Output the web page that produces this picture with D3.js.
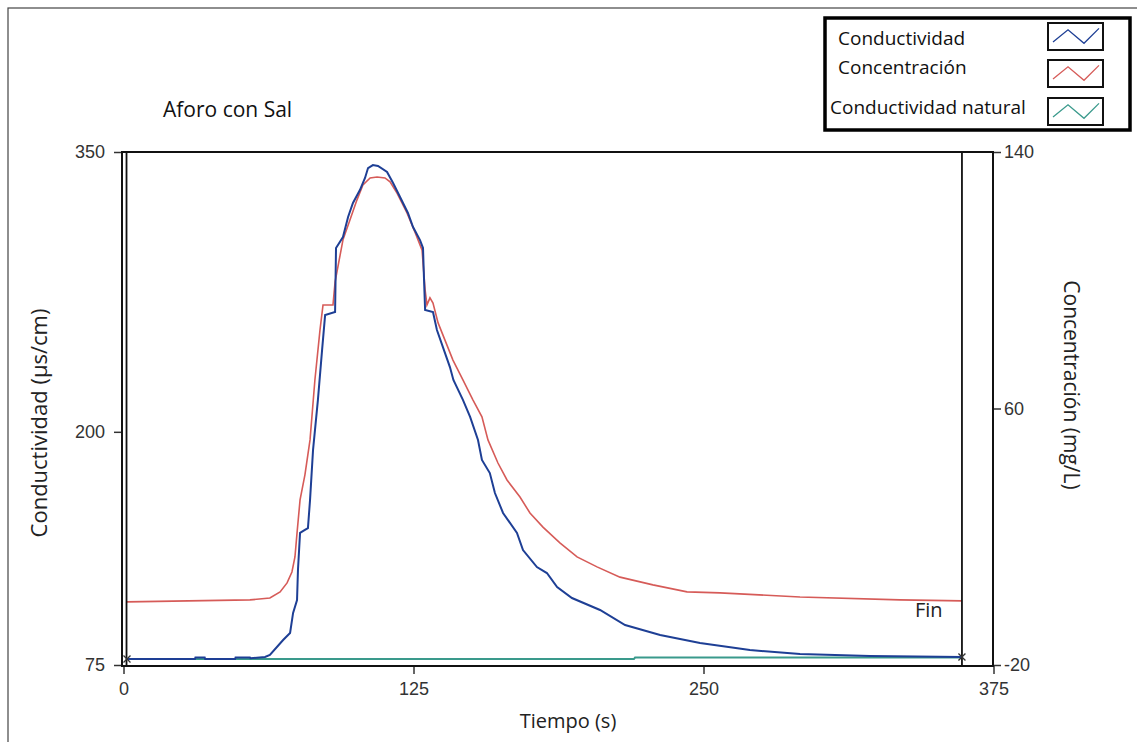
<!DOCTYPE html>
<html lang="es">
<head>
  <meta charset="UTF-8">
  <title>Aforo con Sal</title>
  <script src="https://d3js.org/d3.v7.min.js"></script>
  <style>
    body { margin: 0; background: #fff; }
    svg { display: block; font-family: "Open Sans", "Noto Sans", sans-serif; }
    .tick text { font-size: 18px; fill: #333; }
    .tick line { stroke: #333; stroke-width: 1.5; }
    .frame { fill: none; stroke: #111; stroke-width: 2; }
  </style>
</head>
<body>
  <svg width="1137" height="742"></svg>

  <script>
    // datos
    let tiempoCond = [1.5, 30.8, 31, 35, 35.2, 48.1, 48.3, 54.5, 54.7, 61.0, 63.1, 68.8, 71.8, 73.1, 74.8, 75.2,
      76.1, 78.2, 79.5, 80.4, 81.7, 83.8, 85.6, 86.9, 91.2, 91.6, 94.6, 96.8, 98.9, 101.9, 104.1, 105.4, 107.5,
      109.7, 113.6, 116.2, 119.2, 122.6, 124.8, 127.8, 129.1, 129.5, 130.0, 133.4, 135.1, 140.7, 142.2, 146.3, 149.4,
      152.8, 154.5, 157.9, 160.1, 163.6, 169.6, 172.2, 178.2, 182.5, 186.9, 193.3, 205.4, 216.2, 231.3, 248.5,
      270.0, 291.6, 321.8, 361.4];
    let conductividad = [78.2, 78.2, 79.0, 79.0, 78.2, 78.2, 79.0, 79.0, 78.6, 79.3, 80.4, 88.4, 92.2, 102.9, 109.8, 125.9,
      145.8, 147.4, 148.4, 163.4, 190.3, 217.1, 243.9, 262.6, 264.2, 298.5, 304.4, 315.2, 322.7, 329.6, 336.1, 341.4, 343.0,
      342.5, 339.3, 333.4, 325.9, 317.3, 309.8, 302.8, 298.5, 283.0, 265.3, 264.2, 254.6, 234.7, 227.8, 217.1, 208.0,
      195.6, 184.9, 177.9, 167.2, 156.5, 145.8, 136.6, 127.5, 124.3, 116.8, 110.9, 104.5, 96.4, 91.1, 86.8,
      83.0, 80.9, 79.8, 79.3];

    let tiempoConc = [1.5, 54.5, 63.1, 67.5, 70.5, 72.6, 73.9, 74.8, 76.1, 78.2, 80.4, 82.5, 84.7, 86.0, 90.3, 91.2,
      94.6, 97.6, 100.6, 103.2, 106.3, 109.3, 112.7, 114.9, 117.9, 122.2, 125.6, 128.7, 130.0, 130.8, 132.1, 133.4,
      135.6, 142.0, 146.3, 150.6, 154.5, 157.1, 161.4, 165.3, 170.9, 175.2, 180.8, 188.1, 195.5, 204.1, 214.0,
      228.2, 242.9, 257.1, 291.6, 334.7, 361.4];
    let concentracion = [-0.3, 0.3, 0.9, 2.8, 5.6, 9.0, 13.7, 21.2, 31.5, 39.3, 50.2, 68.9, 84.5, 92.3, 92.3, 99.5,
      112.6, 118.8, 125.0, 129.7, 131.9, 132.2, 131.9, 130.7, 127.2, 121.0, 115.1, 109.4, 97.0, 92.3, 94.5, 92.9,
      86.7, 75.1, 68.9, 62.7, 57.4, 50.2, 43.0, 37.7, 32.4, 27.4, 23.0, 18.1, 13.7, 10.6, 7.4,
      5.0, 2.8, 2.5, 1.2, 0.3, 0.0];

    let tiempoNatural = [1.5, 220, 220.5, 361.4];
    let condNatural = [78.2, 78.2, 79.0, 79.0];

    let cursores = [1.3, 361.4];   // inicio y Fin
    let ticksX = [0, 125, 250, 375];
    let ticksIzq = [75, 200, 350];
    let ticksDer = [-20, 60, 140];

    let series = ["Conductividad", "Concentración", "Conductividad natural"];
    let colores = ["#1e3f95", "#d65b58", "#3a9a8c"];

    let svg = d3.select("svg");

    // marco exterior de la captura
    svg.append("rect")
      .attr("x", 8).attr("y", 8)
      .attr("width", 1200).attr("height", 800)
      .attr("fill", "none").attr("stroke", "#444").attr("stroke-width", 1.2);

    let x = d3.scaleLinear().domain([0, 375]).range([123.5, 993.5]);
    let yIzq = d3.scaleLinear().domain([75, 350]).range([665, 152]);
    let yDer = d3.scaleLinear().domain([-20, 140]).range([665, 152]);

    // ejes
    let ejeX = svg.append("g")
      .attr("transform", "translate(0,666)")
      .call(d3.axisBottom(x).tickValues(ticksX).tickFormat(d => d).tickSize(8).tickSizeOuter(0).tickPadding(8));
    let ejeIzq = svg.append("g")
      .attr("transform", "translate(122,0)")
      .call(d3.axisLeft(yIzq).tickValues(ticksIzq).tickFormat(d => d).tickSize(8).tickSizeOuter(0).tickPadding(9));
    let ejeDer = svg.append("g")
      .attr("transform", "translate(993,0)")
      .call(d3.axisRight(yDer).tickValues(ticksDer).tickFormat(d => d).tickSize(8).tickSizeOuter(0).tickPadding(3));
    [ejeX, ejeIzq, ejeDer].forEach(g => {
      g.select(".domain").remove();
      g.selectAll(".tick text").attr("font-family", null).attr("font-size", null);
    });

    // lineas
    let lineaIzq = d3.line().x(d => x(d[0])).y(d => yIzq(d[1]));
    let lineaDer = d3.line().x(d => x(d[0])).y(d => yDer(d[1]));

    svg.append("path")
      .datum(d3.zip(tiempoNatural, condNatural))
      .attr("d", lineaIzq)
      .attr("fill", "none").attr("stroke", colores[2]).attr("stroke-width", 2);

    svg.append("path")
      .datum(d3.zip(tiempoConc, concentracion))
      .attr("d", lineaDer)
      .attr("fill", "none").attr("stroke", colores[1]).attr("stroke-width", 1.6);

    let datosCond = d3.zip(tiempoCond, conductividad);
    svg.append("path")
      .datum(datosCond)
      .attr("d", lineaIzq)
      .attr("fill", "none").attr("stroke", colores[0]).attr("stroke-width", 2);

    // cursores inicio / fin
    cursores.forEach(c => {
      svg.append("line")
        .attr("x1", x(c)).attr("x2", x(c))
        .attr("y1", 152).attr("y2", 666)
        .attr("stroke", "#111").attr("stroke-width", 1.8);
    });

    // marcas x en los extremos
    [datosCond[0], datosCond[datosCond.length - 1]].forEach(d => {
      let cx = x(d[0]), cy = yIzq(d[1]);
      svg.append("path")
        .attr("d", `M${cx - 3.5},${cy - 3.5}L${cx + 3.5},${cy + 3.5}M${cx - 3.5},${cy + 3.5}L${cx + 3.5},${cy - 3.5}`)
        .attr("stroke", "#333").attr("stroke-width", 1.3);
    });

    // marco del grafico
    svg.append("rect")
      .attr("class", "frame")
      .attr("x", 122).attr("y", 152)
      .attr("width", 993 - 122).attr("height", 666 - 152);

    svg.append("text")
      .attr("x", x(cursores[1]) - 47).attr("y", 617)
      .attr("font-size", 20).attr("fill", "#222")
      .text("Fin");

    // titulos
    svg.append("text")
      .attr("x", 163).attr("y", 117)
      .attr("font-size", 21).attr("fill", "#111")
      .text("Aforo con Sal");

    svg.append("text")
      .attr("x", 568).attr("y", 728)
      .attr("text-anchor", "middle")
      .attr("font-size", 20).attr("fill", "#222")
      .text("Tiempo (s)");

    svg.append("text")
      .attr("transform", "translate(47,423) rotate(-90)")
      .attr("text-anchor", "middle")
      .attr("font-size", 22).attr("fill", "#222")
      .text("Conductividad (µs/cm)");

    svg.append("text")
      .attr("transform", "translate(1064,385) rotate(90)")
      .attr("text-anchor", "middle")
      .attr("font-size", 21).attr("fill", "#222")
      .text("Concentración (mg/L)");

    // leyenda
    svg.append("rect")
      .attr("x", 825).attr("y", 18)
      .attr("width", 305).attr("height", 112)
      .attr("fill", "#fff").attr("stroke", "#000").attr("stroke-width", 3.5);

    let leyX = [838, 838, 830];
    let leyY = [45, 74, 114];
    let swY = [23, 60, 98];
    series.forEach((s, i) => {
      svg.append("text")
        .attr("x", leyX[i]).attr("y", leyY[i])
        .attr("font-size", 19).attr("fill", "#111")
        .text(s);
      let sx = 1048, sy = swY[i], sw = 55, sh = 27;
      svg.append("rect")
        .attr("x", sx).attr("y", sy).attr("width", sw).attr("height", sh)
        .attr("fill", "#fff").attr("stroke", "#111").attr("stroke-width", 2);
      svg.append("path")
        .attr("d", d3.line()([[sx + 5, sy + sh * 0.7], [sx + 20, sy + sh * 0.25], [sx + 36, sy + sh * 0.75], [sx + 51, sy + sh * 0.2]]))
        .attr("fill", "none").attr("stroke", colores[i]).attr("stroke-width", 1.3);
    });
  </script>
</body>
</html>
